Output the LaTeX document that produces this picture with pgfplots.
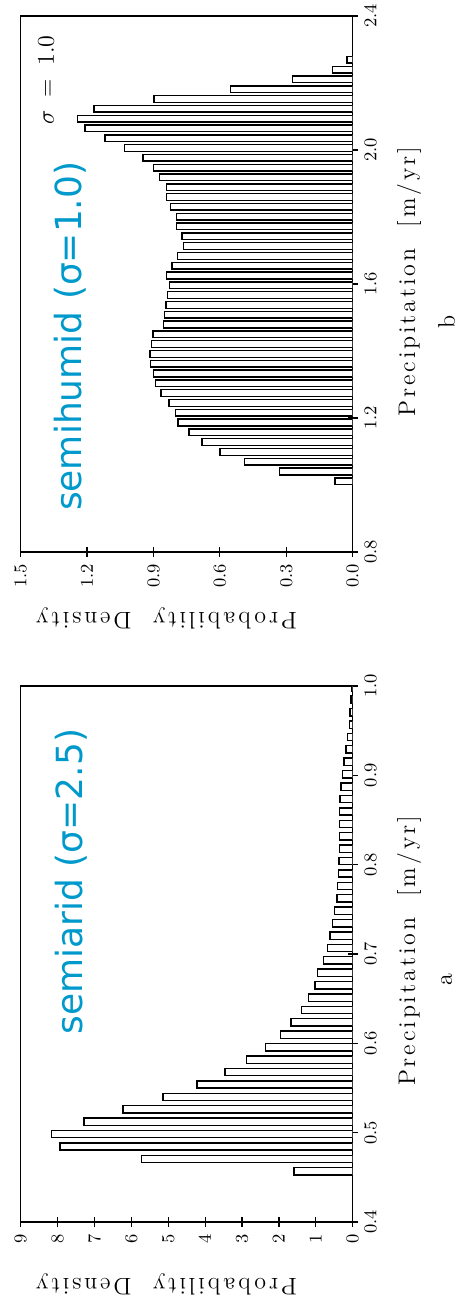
\documentclass[border=0pt]{standalone}
\usepackage{fontspec}
\usepackage{pgfplots}
\pgfplotsset{compat=1.18}

\newfontfamily\annofont{DejaVu Sans}
\newfontfamily\spacedfont{lmroman12-regular.otf}[LetterSpace=12]
\definecolor{annoblue}{RGB}{0,153,204}
\newcommand\spacedlabel{\spacedfont\fontsize{12}{14}\selectfont}

% histogram of precipitation drawn sideways: density to the left, precipitation upward
\pgfplotsset{
  histpanel/.style={
    scale only axis, width=166pt, height=268pt,
    anchor=south west,
    xbar, x dir=reverse, xmin=0,
    axis line style={line width=0.6pt},
    tick align=center, major tick length=5pt,
    xtick pos=bottom, ytick pos=right, yticklabel pos=right,
    tick style={black, line width=0.6pt},
    ticklabel style={font=\fontsize{9}{10}\selectfont},
    xticklabel style={rotate=90, anchor=east},
    yticklabel style={rotate=90, anchor=north,
      /pgf/number format/fixed, /pgf/number format/fixed zerofill,
      /pgf/number format/precision=1},
  },
  histbars/.style={draw=black, fill=white, line width=0.7pt},
}

\begin{document}
\begin{tikzpicture}

% panel a: semiarid climate
\begin{axis}[histpanel, at={(0pt,0pt)},
  xmax=9, xtick={0,1,...,9},
  ymin=0.4, ymax=1.0, ytick={0.4,0.5,...,1.0},
  bar width=0.0082]
\addplot[histbars] coordinates {
 (1.59,0.4567) (5.72,0.4706) (7.93,0.4845) (8.16,0.4984) (7.28,0.5123)
 (6.23,0.5262) (5.14,0.5400) (4.22,0.5539) (3.46,0.5678) (2.88,0.5817)
 (2.36,0.5956) (1.96,0.6095) (1.67,0.6234) (1.38,0.6373) (1.20,0.6512)
 (1.02,0.6651) (0.95,0.6789) (0.79,0.6928) (0.69,0.7067) (0.62,0.7206)
 (0.55,0.7345) (0.50,0.7484) (0.43,0.7623) (0.41,0.7762) (0.39,0.7901)
 (0.37,0.8040) (0.36,0.8178) (0.36,0.8317) (0.35,0.8456) (0.35,0.8595)
 (0.34,0.8734) (0.32,0.8873) (0.27,0.9012) (0.23,0.9151) (0.18,0.9290)
 (0.14,0.9429) (0.09,0.9567) (0.07,0.9706) (0.05,0.9845) (0.02,0.9984)
};
\node[rotate=90, text=annoblue, font=\annofont\fontsize{18}{20}\selectfont]
  at (axis cs:7.64,0.781) {semiarid (σ=2.5)};
\end{axis}

% panel b: semihumid climate
\begin{axis}[histpanel, at={(0pt,335pt)},
  xmax=1.5, xtick={0,0.3,...,1.5},
  xticklabel style={/pgf/number format/fixed, /pgf/number format/fixed zerofill,
    /pgf/number format/precision=1},
  ymin=0.8, ymax=2.4, ytick={0.8,1.2,...,2.4},
  bar width=0.02]
\addplot[histbars] coordinates {
 (0.08,1.0110) (0.33,1.0403) (0.49,1.0695) (0.60,1.0988) (0.68,1.1280)
 (0.74,1.1573) (0.79,1.1866) (0.80,1.2158) (0.83,1.2451) (0.866,1.2743)
 (0.89,1.3036) (0.90,1.3329) (0.913,1.3621) (0.916,1.3914) (0.909,1.4206)
 (0.902,1.4499) (0.856,1.4792) (0.851,1.5084) (0.843,1.5377) (0.836,1.5669)
 (0.828,1.5962) (0.840,1.6255) (0.816,1.6547) (0.791,1.6840) (0.764,1.7132)
 (0.772,1.7425) (0.795,1.7718) (0.795,1.8010) (0.824,1.8303) (0.840,1.8595)
 (0.840,1.8888) (0.873,1.9181) (0.900,1.9473) (0.948,1.9766) (1.03,2.0058)
 (1.12,2.0351) (1.209,2.0644) (1.242,2.0936) (1.169,2.1229) (0.898,2.1521)
 (0.552,2.1814) (0.271,2.2107) (0.09,2.2399) (0.025,2.2692)
};
\node[rotate=90, font=\fontsize{12}{14}\selectfont]
  at (axis cs:1.385,2.208) {$\sigma\;=\;1.0$};
\node[rotate=90, text=annoblue, font=\annofont\fontsize{18}{20}\selectfont]
  at (axis cs:1.278,1.444) {semihumid (σ=1.0)};
\end{axis}

% axis titles, set letter-spaced and turned with the panels
\node[rotate=180, anchor=south, inner sep=0pt, font=\spacedlabel]
  at (72.9pt,-25.5pt) {Probability\ \ Density};
\node[rotate=180, anchor=south, inner sep=0pt, font=\spacedlabel]
  at (72.9pt,307.5pt) {Probability\ \ Density};
\node[rotate=90, anchor=north, inner sep=0pt, font=\spacedlabel]
  at (188pt,135.5pt) {Precipitation\ \ [m/yr]};
\node[rotate=90, anchor=north, inner sep=0pt, font=\spacedlabel]
  at (188pt,470.2pt) {Precipitation\ \ [m/yr]};

% panel letters
\node[rotate=90, inner sep=0pt, font=\fontsize{12}{14}\selectfont] at (213pt,121pt) {a};
\node[rotate=90, inner sep=0pt, font=\fontsize{12}{14}\selectfont] at (213pt,450pt) {b};

\pgfresetboundingbox
\path[use as bounding box] (-10.35pt,-43pt) rectangle (218.2pt,611pt);
\end{tikzpicture}
\end{document}
